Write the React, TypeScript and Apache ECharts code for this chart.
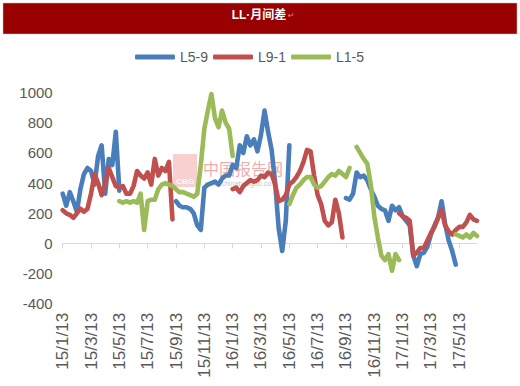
import React, { useEffect, useRef } from "react";
import * as echarts from "echarts";

const TITLE = "LL·月间差";
const TITLE_MARK = "↵";
const SERIES_NAMES = ["L5-9", "L9-1", "L1-5"];
const SERIES_COLORS = ["#4A7EBB", "#C0504D", "#9BBB59"];
const TICK_LABELS = [
  "15/1/13", "15/3/13", "15/5/13", "15/7/13", "15/9/13", "15/11/13",
  "16/1/13", "16/3/13", "16/5/13", "16/7/13", "16/9/13", "16/11/13",
  "17/1/13", "17/3/13", "17/5/13",
];
// data points are sampled every quarter month; 8 points between labelled ticks
const POINTS_PER_TICK = 8;
const Y_MIN = -400;
const Y_MAX = 1000;
const Y_STEP = 200;

const N = null;
const L59: (number | null)[] = [
  330, 250, 340, 280, 210, 360, 460, 500, 480, 390, 580, 650, 330, 560, 520, 740,
  350, N, N, N, N, N, N, N, N, N, N, N, N, N, N, N,
  280, 250, 240, 240, 230, 200, 120, 90, 370, 390, 400, 410, 390, 430, 450, 450,
  520, 500, 650, 600, 710, 650, 690, 610, 720, 880, 740, 620, 400, 100, -50, 150,
  650, N, N, N, N, N, N, N, N, N, N, N, N, N, N, N,
  300, 290, 330, 470, 440, 450, 420, 360, 310, 250, 230, 220, 150, 250, 220, 240,
  180, 150, 120, -80, -150, -70, -60, -20, 60, 120, 170, 280, 130, 20, -50, -140,
  N, N, N, N, N, N,
];
const L91: (number | null)[] = [
  220, 200, 190, 170, 200, 230, 210, 230, 330, 460, 400, 320, 400, 500, 440, 380,
  370, 380, 330, 330, 380, 480, 450, 430, 470, 390, 560, 450, 500, 480, 540, 160,
  N, N, N, N, N, N, N, N, N, N, N, N, N, N, N, N,
  360, 370, 340, 380, 400, 420, 410, 420, 450, 440, 470, 460, 390, 280, 290, 320,
  390, 410, 440, 480, 540, 620, 610, 450, 320, 260, 150, 120, 140, 290, 200, 40,
  N, N, N, N, N, N, N, N, N, N, N, N, N, N, N, 200,
  180, 170, 150, -80, -60, -30, -30, 20, 70, 110, 170, 220, 120, 80, 60, 90,
  110, 110, 140, 190, 160, 150,
];
const L15: (number | null)[] = [
  N, N, N, N, N, N, N, N, N, N, N, N, N, N, N, N,
  280, 270, 280, 270, 280, 270, 330, 90, 280, 290, 290, 360, 390, 400, 390, 380,
  360, 340, 340, 330, 320, 310, 330, 520, 760, 880, 990, 830, 770, 880, 800, 760,
  580, N, N, N, N, N, N, N, N, N, N, N, N, N, N, N,
  260, 320, 370, 390, 420, 440, 440, 390, 370, 380, 410, 440, 460, 450, 480, 460,
  440, 500, N, 640, 600, 560, 530, 390, 180, 40, -80, -110, -70, -180, -70, -110,
  N, N, N, N, N, N, N, N, N, N, N, N, N, N, N, 60,
  50, 40, 60, 40, 70, 50,
];

const SERIES_VALUES = [L59, L91, L15];
const X_MAX = L59.length - 1;
const TICK_POSITIONS = TICK_LABELS.map((_, k) => k * POINTS_PER_TICK);

const LABEL_COLOR = "#595959";
const AXIS_COLOR = "#D9D9D9";
const FONT = "Liberation Sans";

export default function App() {
  const ref = useRef<HTMLDivElement>(null);

  useEffect(() => {
    if (!ref.current) return;
    const chart = echarts.init(ref.current, undefined, { renderer: "svg" });

    const xBase = {
      type: "value" as const,
      min: 0,
      max: X_MAX,
      interval: POINTS_PER_TICK,
      position: "bottom" as const,
      splitLine: { show: false },
    };

    chart.setOption({
      animation: false,
      backgroundColor: "#ffffff",
      grid: { left: 62.7, right: 43, top: 92.5, bottom: 82.1, containLabel: false },
      legend: {
        data: SERIES_NAMES,
        left: 130,
        top: 45,
        icon: "roundRect",
        itemWidth: 40,
        itemHeight: 5,
        itemGap: 5,
        textStyle: { color: LABEL_COLOR, fontSize: 14, fontFamily: FONT },
      },
      xAxis: [
        {
          ...xBase,
          axisLine: { show: false, onZero: false },
          axisTick: { show: false },
          axisLabel: {
            rotate: 90,
            margin: 9,
            color: LABEL_COLOR,
            fontSize: 17,
            fontFamily: FONT,
            customValues: TICK_POSITIONS,
            formatter: (v: number) => {
              const k = Math.round(v / POINTS_PER_TICK);
              return v % POINTS_PER_TICK === 0 && TICK_LABELS[k] ? TICK_LABELS[k] : "";
            },
          },
        },
        {
          ...xBase,
          axisLine: { show: true, onZero: true, lineStyle: { color: AXIS_COLOR, width: 1 } },
          axisTick: {
            show: true,
            length: 5,
            customValues: TICK_POSITIONS,
            lineStyle: { color: AXIS_COLOR, width: 1 },
          },
          axisLabel: { show: false },
        },
      ],
      yAxis: {
        type: "value",
        min: Y_MIN,
        max: Y_MAX,
        interval: Y_STEP,
        axisLine: { show: false },
        axisTick: { show: false },
        splitLine: { show: false },
        axisLabel: {
          color: LABEL_COLOR,
          fontSize: 15,
          fontFamily: FONT,
          margin: 10,
          formatter: (v: number) => String(v),
        },
      },
      series: SERIES_NAMES.map((name, s) => ({
        name,
        type: "line",
        xAxisIndex: 0,
        showSymbol: false,
        symbol: "none",
        connectNulls: false,
        color: SERIES_COLORS[s],
        lineStyle: { color: SERIES_COLORS[s], width: 4.6, cap: "round", join: "round" },
        data: SERIES_VALUES[s].map((v, i) => [i, v == null ? "-" : v]),
        z: 3,
      })),
      graphic: [
        {
          type: "rect",
          z: 0,
          shape: { x: 3, y: 3, width: 514, height: 31 },
          style: { fill: "#990000", stroke: "#C8C8C8", lineWidth: 0.5 },
        },
        {
          type: "text",
          z: 1,
          x: 259,
          y: 14.5,
          style: {
            text: TITLE,
            fill: "#ffffff",
            fontSize: 12,
            fontWeight: "bold",
            fontFamily: "Liberation Sans, Noto Sans CJK SC",
            align: "center",
            verticalAlign: "middle",
          },
        },
        {
          type: "text",
          z: 1,
          x: 288,
          y: 15,
          style: {
            text: TITLE_MARK,
            fill: "#D98C8C",
            fontSize: 8,
            fontFamily: "DejaVu Sans",
            align: "left",
            verticalAlign: "middle",
          },
        },
        // watermark (beneath the lines)
        {
          type: "rect",
          z: 0,
          shape: { x: 173, y: 154, width: 24, height: 33 },
          style: { fill: "rgba(240,150,150,0.45)" },
        },
        {
          type: "text",
          z: 0,
          x: 185,
          y: 181,
          style: {
            text: "CBG",
            fill: "rgba(255,255,255,0.9)",
            fontSize: 8,
            fontWeight: "bold",
            fontFamily: FONT,
            align: "center",
            verticalAlign: "middle",
          },
        },
        {
          type: "text",
          z: 0,
          x: 203,
          y: 168,
          style: {
            text: "中国报告网",
            fill: "rgba(225,100,100,0.55)",
            fontSize: 16,
            fontFamily: "Noto Sans CJK SC",
            align: "left",
            verticalAlign: "middle",
          },
        },
        {
          type: "text",
          z: 0,
          x: 205,
          y: 183,
          style: {
            text: "www.chinabaogao.com",
            fill: "rgba(130,130,130,0.5)",
            fontSize: 7,
            fontFamily: FONT,
            align: "left",
            verticalAlign: "middle",
          },
        },
      ],
    });

    return () => chart.dispose();
  }, []);

  return (
    <div
      ref={ref}
      style={{ position: "fixed", left: 0, top: 0, width: 520, height: 386, background: "#fff" }}
    />
  );
}
